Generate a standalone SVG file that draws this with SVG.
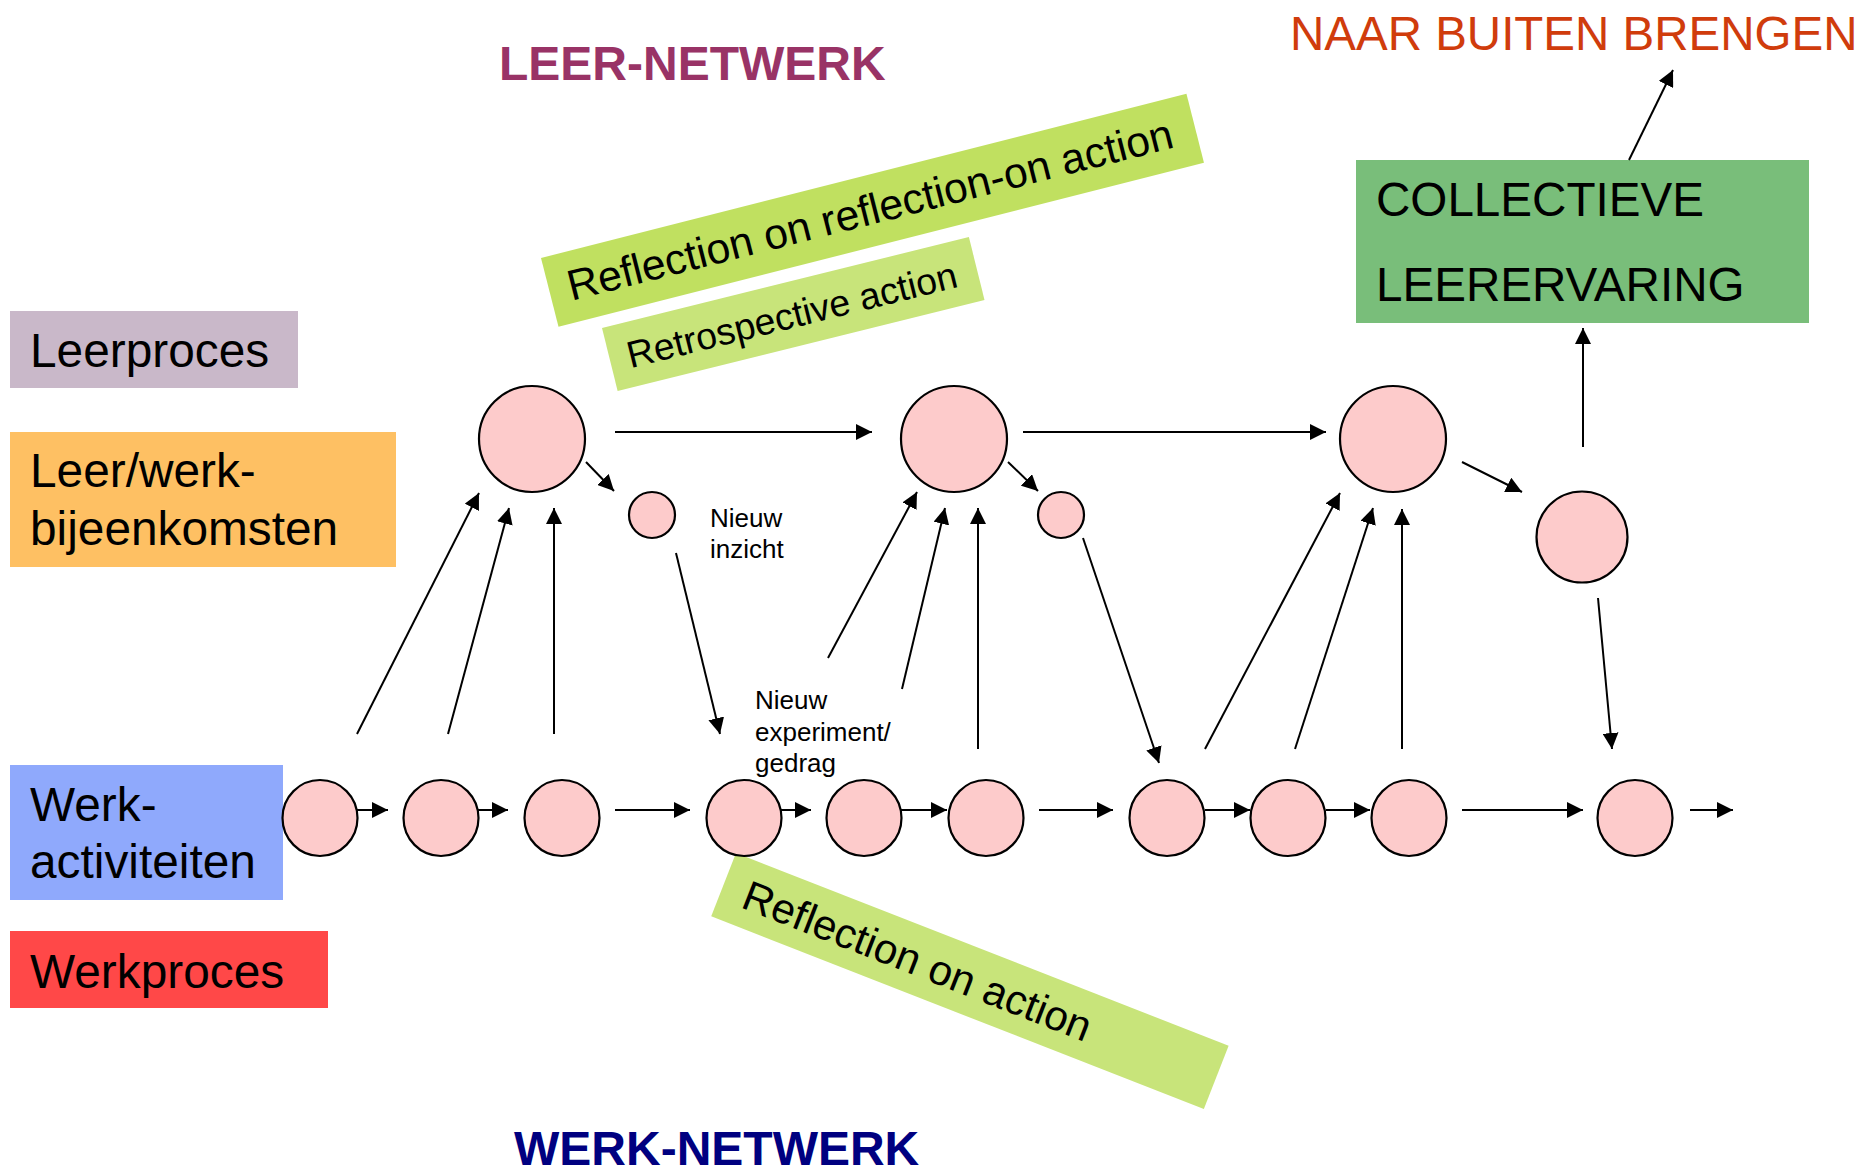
<svg xmlns="http://www.w3.org/2000/svg" width="1863" height="1172" viewBox="0 0 1863 1172">
<style>
text { font-family: "Liberation Sans", Arial, sans-serif; fill: #000; }
.lbl { font-size: 47.8px; }
.small { font-size: 26px; }
.title { font-size: 48px; font-weight: bold; }
.node { fill: #FDCBCB; stroke: #000; stroke-width: 2.2; }
.conn line { stroke: #000; stroke-width: 2; marker-end: url(#ah); }
</style>
<defs>
<marker id="ah" markerUnits="userSpaceOnUse" viewBox="0 0 16 16" markerWidth="16" markerHeight="16" refX="16" refY="8" orient="auto">
<path d="M0,0 L16,8 L0,16 z" fill="#000"/>
</marker>
</defs>
<rect width="1863" height="1172" fill="#fff"/>

<g id="title-leer"><text class="title" x="499" y="80" style="fill:#993366">LEER-NETWERK</text></g>
<g id="title-werk"><text class="title" x="514" y="1165" style="fill:#000080">WERK-NETWERK</text></g>
<g id="naar-buiten"><text x="1290" y="50" style="font-size:47.5px;fill:#D03C0C">NAAR BUITEN BRENGEN</text></g>

<g id="legend-leerproces"><rect x="10" y="311" width="288" height="77" fill="#C9B8C9"/><text class="lbl" x="30" y="367">Leerproces</text></g>
<g id="legend-bijeenkomsten"><rect x="10" y="432" width="386" height="135" fill="#FEC063"/><text class="lbl" x="30" y="487">Leer/werk-</text><text class="lbl" x="30" y="545">bijeenkomsten</text></g>
<g id="legend-werkactiviteiten"><rect x="10" y="765" width="273" height="135" fill="#8FA9FC"/><text class="lbl" x="30" y="821">Werk-</text><text class="lbl" x="30" y="878">activiteiten</text></g>
<g id="legend-werkproces"><rect x="10" y="931" width="318" height="77" fill="#FF4848"/><text class="lbl" x="30" y="988">Werkproces</text></g>

<g id="banner-reflection-on-reflection" transform="translate(541,258) rotate(-14.27)"><rect width="666" height="71" fill="#C0E060"/><text x="19" y="49" style="font-size:42.8px">Reflection on reflection-on action</text></g>
<g id="banner-retrospective" transform="translate(602,328) rotate(-13.93)"><rect width="378" height="65" fill="#C8E47A"/><text x="18" y="46" style="font-size:37.4px">Retrospective action</text></g>
<g id="banner-reflection-on-action" transform="translate(736,853) rotate(21.37)"><rect width="529" height="68" fill="#C8E47A"/><text x="23" y="49" style="font-size:42.2px">Reflection on action</text></g>

<g id="collectieve"><rect x="1356" y="160" width="453" height="163" fill="#79BE7A"/><text x="1376" y="216" style="font-size:47.6px">COLLECTIEVE</text><text x="1376" y="301" style="font-size:47.6px">LEERERVARING</text></g>

<g id="meeting-1"><circle class="node" cx="532" cy="439" r="53"/></g>
<g id="meeting-2"><circle class="node" cx="954" cy="439" r="53"/></g>
<g id="meeting-3"><circle class="node" cx="1393" cy="439" r="53"/></g>
<g id="insight-1"><circle class="node" cx="652" cy="515" r="23"/><text class="small" x="710" y="527">Nieuw</text><text class="small" x="710" y="558">inzicht</text></g>
<g id="insight-2"><circle class="node" cx="1061" cy="515" r="23"/></g>
<g id="collective-node"><circle class="node" cx="1582" cy="537" r="45.5"/></g>
<g id="experiment-label"><text class="small" x="755" y="709">Nieuw</text><text class="small" x="755" y="741">experiment/</text><text class="small" x="755" y="772">gedrag</text></g>

<g id="work-1"><ellipse class="node" cx="320" cy="818" rx="37.5" ry="38"/></g>
<g id="work-2"><ellipse class="node" cx="441" cy="818" rx="37.5" ry="38"/></g>
<g id="work-3"><ellipse class="node" cx="562" cy="818" rx="37.5" ry="38"/></g>
<g id="work-4"><ellipse class="node" cx="744" cy="818" rx="37.5" ry="38"/></g>
<g id="work-5"><ellipse class="node" cx="864" cy="818" rx="37.5" ry="38"/></g>
<g id="work-6"><ellipse class="node" cx="986" cy="818" rx="37.5" ry="38"/></g>
<g id="work-7"><ellipse class="node" cx="1167" cy="818" rx="37.5" ry="38"/></g>
<g id="work-8"><ellipse class="node" cx="1288" cy="818" rx="37.5" ry="38"/></g>
<g id="work-9"><ellipse class="node" cx="1409" cy="818" rx="37.5" ry="38"/></g>
<g id="work-10"><ellipse class="node" cx="1635" cy="818" rx="37.5" ry="38"/></g>

<g id="connectors" class="conn">
<line x1="615" y1="432" x2="872" y2="432"/>
<line x1="1023" y1="432" x2="1326" y2="432"/>
<line x1="586" y1="462" x2="614" y2="491"/>
<line x1="1008" y1="462" x2="1038" y2="491"/>
<line x1="1462" y1="462" x2="1522" y2="492"/>
<line x1="357" y1="734" x2="479" y2="493"/>
<line x1="448" y1="734" x2="509" y2="508"/>
<line x1="554" y1="734" x2="554" y2="508"/>
<line x1="828" y1="658" x2="917" y2="492"/>
<line x1="902" y1="689" x2="945" y2="508"/>
<line x1="978" y1="749" x2="978" y2="508"/>
<line x1="1205" y1="749" x2="1340" y2="493"/>
<line x1="1295" y1="749" x2="1373" y2="508"/>
<line x1="1402" y1="749" x2="1402" y2="509"/>
<line x1="676" y1="553" x2="720" y2="734"/>
<line x1="1083" y1="538" x2="1159" y2="763"/>
<line x1="1598" y1="598" x2="1612" y2="749"/>
<line x1="1583" y1="447" x2="1583" y2="328"/>
<line x1="1629" y1="160" x2="1673" y2="70"/>
<line x1="357" y1="810" x2="388" y2="810"/>
<line x1="478" y1="810" x2="508" y2="810"/>
<line x1="615" y1="810" x2="690" y2="810"/>
<line x1="781" y1="810" x2="811" y2="810"/>
<line x1="901" y1="810" x2="947" y2="810"/>
<line x1="1039" y1="810" x2="1113" y2="810"/>
<line x1="1205" y1="810" x2="1250" y2="810"/>
<line x1="1326" y1="810" x2="1370" y2="810"/>
<line x1="1462" y1="810" x2="1583" y2="810"/>
<line x1="1690" y1="810" x2="1733" y2="810"/>
</g>
</svg>
